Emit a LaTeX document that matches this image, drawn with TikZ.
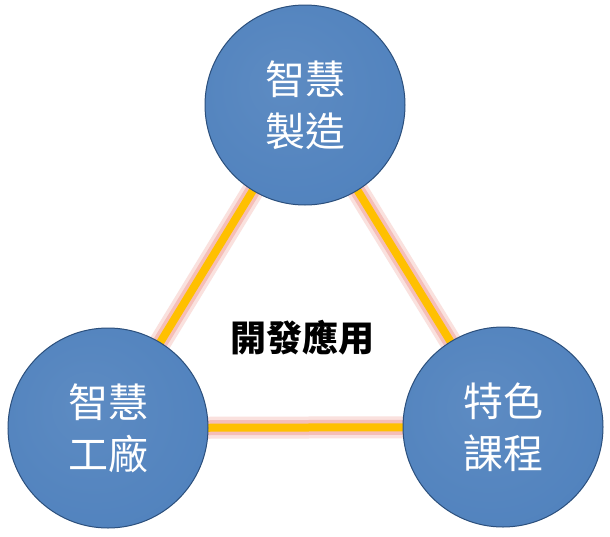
\documentclass[tikz,border=0pt]{standalone}
\usepackage{fontspec}
\newfontfamily\cjk{Noto Sans CJK TC}
\usepackage{tikz}
\usetikzlibrary{positioning,backgrounds}
\definecolor{ballblue}{HTML}{4F81BD}
\definecolor{rimblue}{HTML}{2B4F7C}
\definecolor{linkgold}{HTML}{FFC000}
\definecolor{glowpink}{HTML}{F2A9A0}
\pgfdeclareradialshading{bevel}{\pgfpoint{-6bp}{6bp}}{%
  color(0bp)=(ballblue!92!white); color(36bp)=(ballblue);
  color(43bp)=(ballblue!85!black); color(50bp)=(rimblue)}
\tikzset{
  topic/.style ={circle,minimum size=200pt,inner sep=0pt,shading=bevel,
                 draw=rimblue,line width=1pt,text=white,align=center,
                 font=\cjk\fontsize{40}{52}\selectfont},
  hub/.style   ={font=\cjk\bfseries\fontsize{36}{40}\selectfont},
  glowout/.style={glowpink!35,line width=22pt},
  glowin/.style ={glowpink!75,line width=15pt},
  link/.style  ={linkgold,line width=8pt},
}

\begin{document}
\begin{tikzpicture}[x=1pt,y=1pt]
  \useasboundingbox (0,0) rectangle (610,-536);
  \node[topic] (zz) at (305,-105){智慧\\製造};
  \node[topic] (gc) at (108,-428){智慧\\工廠};
  \node[topic] (kc) at (503,-427){特色\\課程};
  \node[hub]   (ky) at (302,-338){開發應用};
  \begin{scope}[on background layer]
    \fill[white] (0,0) rectangle (610,-536);
    \foreach \a/\b in {zz/gc,gc/kc,kc/zz}{\draw[glowout] (\a.center)--(\b.center);}
    \foreach \a/\b in {zz/gc,gc/kc,kc/zz}{\draw[glowin] (\a.center)--(\b.center);}
    \foreach \a/\b in {zz/gc,gc/kc,kc/zz}{\draw[link] (\a.center)--(\b.center);}
  \end{scope}
\end{tikzpicture}
\end{document}
